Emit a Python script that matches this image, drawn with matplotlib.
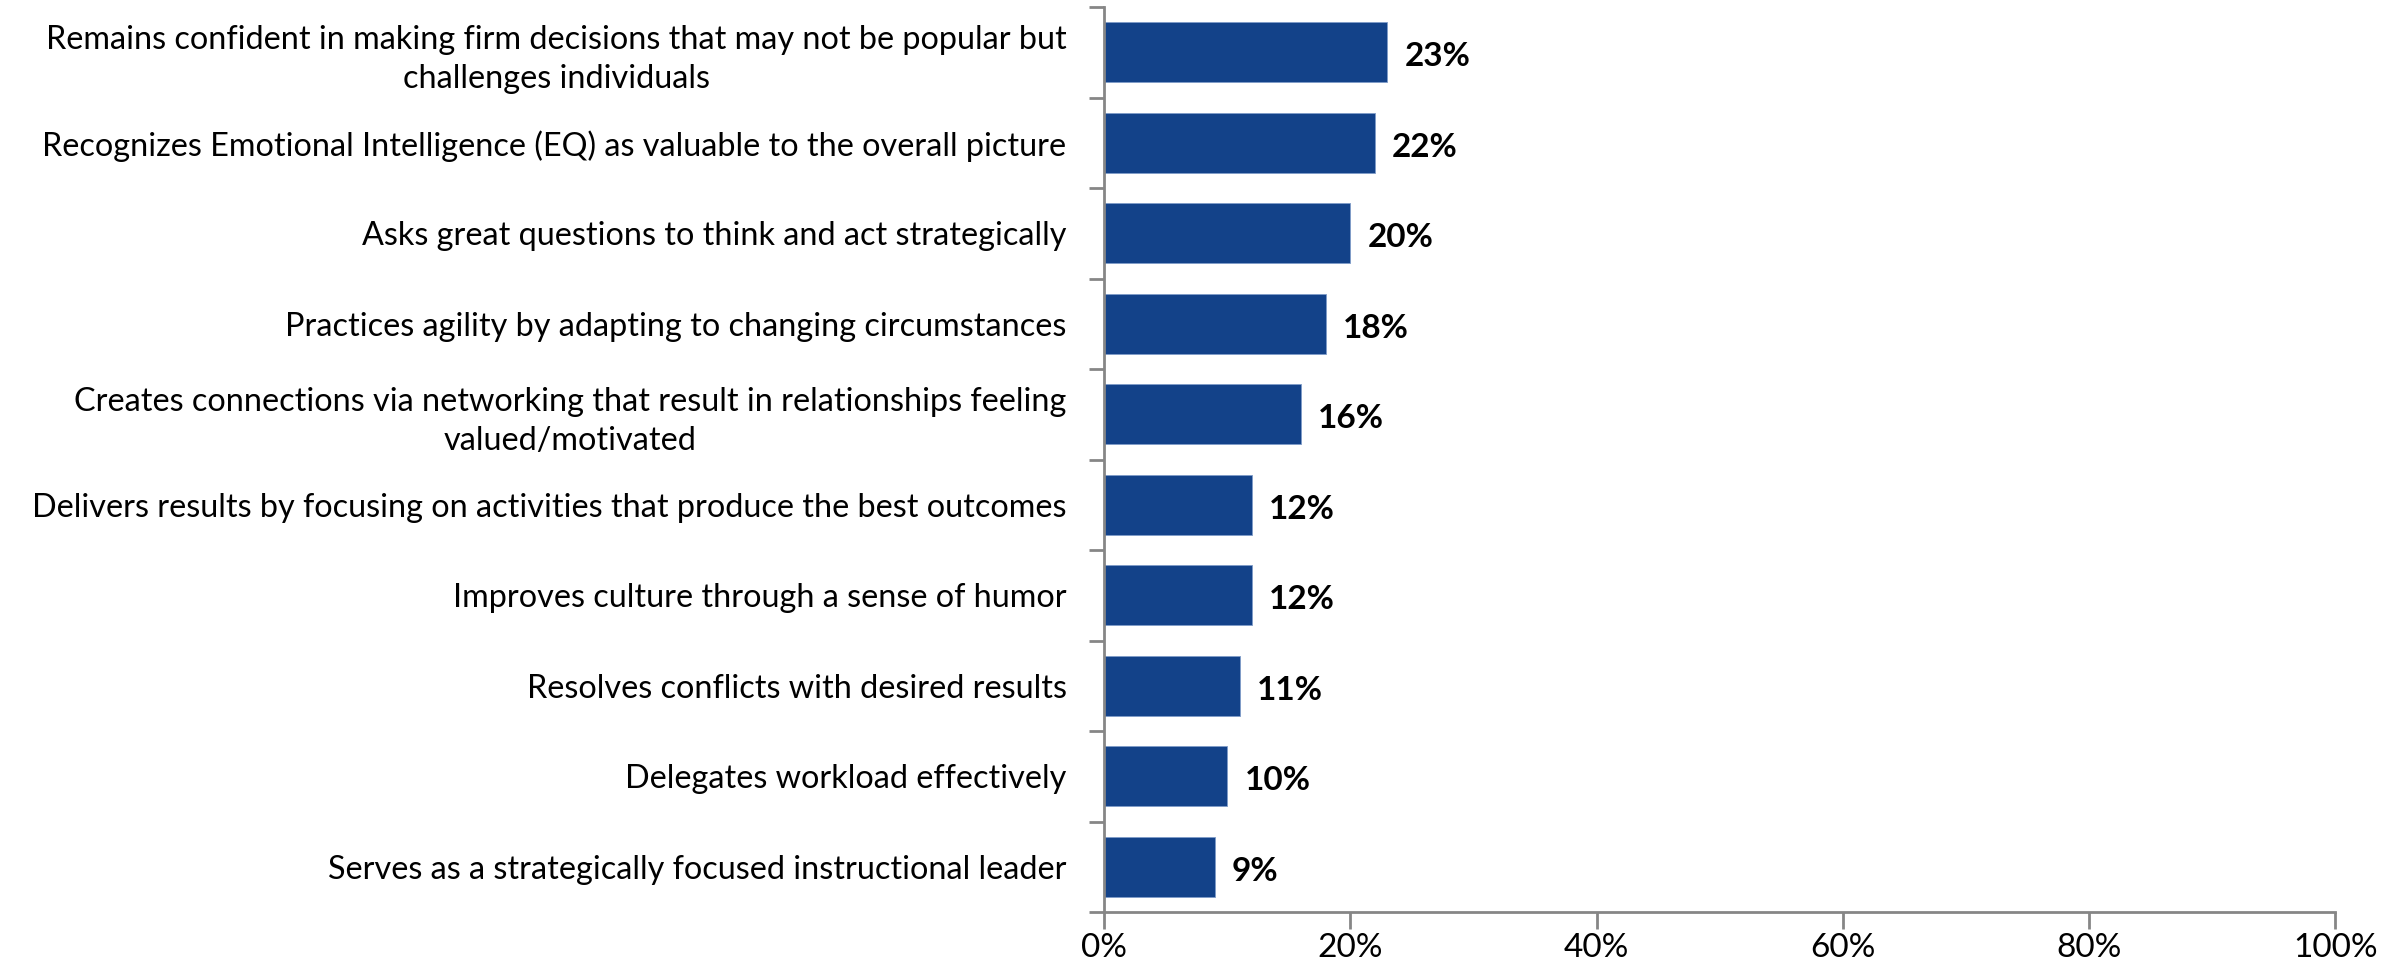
import numpy as np
import matplotlib
matplotlib.use("Agg")
import matplotlib.pyplot as plt
from matplotlib.ticker import FixedLocator, PercentFormatter

# --- data ---
categories = [
    "Remains confident in making firm decisions that may not be popular but\nchallenges individuals",
    "Recognizes Emotional Intelligence (EQ) as valuable to the overall picture",
    "Asks great questions to think and act strategically",
    "Practices agility by adapting to changing circumstances",
    "Creates connections via networking that result in relationships feeling\nvalued/motivated",
    "Delivers results by focusing on activities that produce the best outcomes",
    "Improves culture through a sense of humor",
    "Resolves conflicts with desired results",
    "Delegates workload effectively",
    "Serves as a strategically focused instructional leader",
]
values = [23, 22, 20, 18, 16, 12, 12, 11, 10, 9]
x_ticks = [0, 20, 40, 60, 80, 100]

plt.rcParams['font.family'] = ['Lato', 'DejaVu Sans']
bar_color = "#134289"
axis_color = "#868686"

fig = plt.figure(figsize=(23.95, 9.59), dpi=100)
ax = fig.add_axes([0.461, 0.049, 0.514, 0.9437])

n = len(categories)
y = np.arange(n)
ax.barh(y, values, height=0.66, color=bar_color, edgecolor="#7f9cc8", linewidth=0.6)
ax.set_ylim(n - 0.5, -0.5)
ax.set_xlim(0, 100)

for yi, v in zip(y, values):
    ax.text(v + 1.4, yi + 0.05, f"{v}%", va="center", ha="left",
            fontsize=24, fontweight="bold", color="black")

# y axis: ticks on category boundaries, labels at centers
ax.yaxis.set_major_locator(FixedLocator(np.arange(-0.5, n, 1.0)))
ax.yaxis.set_major_formatter(plt.NullFormatter())
ax.yaxis.set_minor_locator(FixedLocator(y))
ax.set_yticklabels(categories, minor=True, fontsize=23.3, multialignment="center",
                   linespacing=1.35)
ax.tick_params(axis="y", which="major", length=11, width=2, color=axis_color)
ax.tick_params(axis="y", which="minor", length=0, pad=27)

ax.xaxis.set_major_locator(FixedLocator(x_ticks))
ax.xaxis.set_major_formatter(PercentFormatter(decimals=0))
ax.tick_params(axis="x", length=12, width=2, color=axis_color, labelsize=24, pad=3)

for side in ["top", "right"]:
    ax.spines[side].set_visible(False)
for side in ["left", "bottom"]:
    ax.spines[side].set_color(axis_color)
    ax.spines[side].set_linewidth(2)

fig.savefig("out.png", dpi=100)
